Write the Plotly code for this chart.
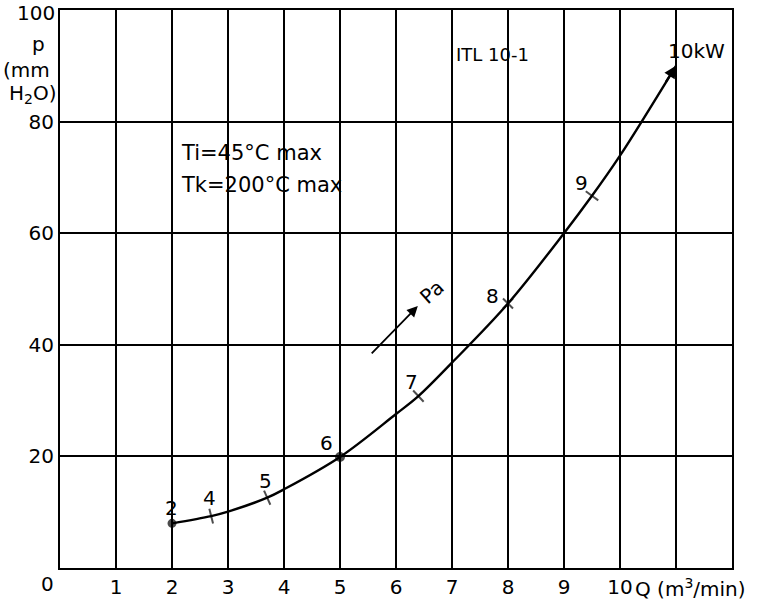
import numpy as np
import plotly.graph_objects as go

# ---- data ----
curve_Q = [2.0, 2.7, 3.0, 3.7, 4.0, 5.0, 6.0, 6.4, 7.0, 8.0, 9.0, 9.5, 10.0, 11.0]
curve_p = [8.0, 9.3, 10.1, 12.6, 14.1, 19.9, 27.6, 30.8, 36.8, 47.4, 60.0, 66.7, 73.9, 90.0]

mark_Q = [2.0, 2.7, 3.7, 5.0, 6.4, 8.0, 9.5]
mark_p = [8.0, 9.3, 12.6, 19.9, 30.8, 47.4, 66.7]
mark_labels = ["2", "4", "5", "6", "7", "8", "9"]

x_tickvals = list(range(0, 13))
x_ticktext = ["", "1", "2", "3", "4", "5", "6", "7", "8", "9", "10", "", ""]
y_tickvals = [0, 20, 40, 60, 80, 100]
y_ticktext = ["", "20", "40", "60", "80", ""]
y_top_label = "100"

FONT = "DejaVu Sans"

# ---- styling for the marks ----
mark_symbols = ["circle", "line-ns-open", "line-ns-open", "circle", "line-ns-open", "x-thin-open", "line-ns-open"]
mark_sizes = [7, 11, 11, 8, 11, 10, 11]
mark_angles = [0, -14, -24, 0, -43, 0, -54]
label_dx = [-1, -2, -2, -14, -7, -16, -11]
label_dy = [15, 18, 17, 14, 14, 8, 13]

fig = go.Figure()

fig.add_trace(go.Scatter(
    x=curve_Q, y=curve_p, mode="lines",
    line=dict(color="black", width=2.4, shape="spline", smoothing=1.0),
    hoverinfo="skip", showlegend=False,
))

fig.add_trace(go.Scatter(
    x=mark_Q, y=mark_p, mode="markers",
    marker=dict(symbol=mark_symbols, size=mark_sizes, angle=mark_angles,
                color="black", line=dict(color="black", width=2)),
    hoverinfo="skip", showlegend=False,
))

annotations = []
for q, pv, lab, dx, dy in zip(mark_Q, mark_p, mark_labels, label_dx, label_dy):
    annotations.append(dict(x=q, y=pv, text=lab, showarrow=False, xshift=dx, yshift=dy,
                            font=dict(family=FONT, size=20, color="black")))

# arrow at the end of the curve (10 kW)
annotations.append(dict(x=curve_Q[-1], y=curve_p[-1], ax=10.8, ay=86.8, axref="x", ayref="y",
                        text="", showarrow=True, arrowhead=2, arrowsize=1.1, arrowwidth=2.2,
                        arrowcolor="black", standoff=0))
annotations.append(dict(x=11.37, y=92.7, text="10kW", showarrow=False,
                        font=dict(family=FONT, size=20, color="black")))
annotations.append(dict(x=7.72, y=92.1, text="ITL 10-1", showarrow=False,
                        font=dict(family=FONT, size=18, color="black")))
annotations.append(dict(x=2.13, y=74.4, text="Ti=45°C max", showarrow=False, xanchor="left",
                        font=dict(family=FONT, size=21, color="black")))
annotations.append(dict(x=2.13, y=68.6, text="Tk=200°C max", showarrow=False, xanchor="left",
                        font=dict(family=FONT, size=21, color="black")))
# Pa arrow
annotations.append(dict(x=6.39, y=46.95, ax=5.54, ay=38.2, axref="x", ayref="y",
                        text="", showarrow=True, arrowhead=2, arrowsize=1.2, arrowwidth=1.8,
                        arrowcolor="black", standoff=0))
annotations.append(dict(x=6.64, y=49.5, text="Pa", showarrow=False, textangle=-42,
                        font=dict(family=FONT, size=20, color="black")))
# axis labels
annotations.append(dict(x=0, xref="paper", xshift=-13, xanchor="center", y=0, yref="paper",
                        text="0", showarrow=False, yanchor="top", yshift=-2,
                        font=dict(family=FONT, size=20, color="black")))
annotations.append(dict(x=0, xref="paper", xshift=-3, xanchor="right", y=1, yref="paper",
                        text=y_top_label, showarrow=False, yanchor="middle", yshift=-3,
                        font=dict(family=FONT, size=20, color="black")))
annotations.append(dict(x=10.23, y=0, yref="paper", text="Q (m<sup>3</sup>/min)", showarrow=False,
                        xanchor="left", yanchor="top", yshift=-5,
                        font=dict(family=FONT, size=20, color="black")))
annotations.append(dict(x=0, xref="paper", y=(568 - 30) / 558, yref="paper", text="p",
                        showarrow=False, xanchor="center", xshift=-22,
                        font=dict(family=FONT, size=20, color="black")))
annotations.append(dict(x=0, xref="paper", y=(568 - 56) / 558, yref="paper", text="(mm",
                        showarrow=False, xanchor="right", xshift=-8,
                        font=dict(family=FONT, size=20, color="black")))
annotations.append(dict(x=0, xref="paper", y=(568 - 79) / 558, yref="paper", text="H<sub>2</sub>O)",
                        showarrow=False, xanchor="right", xshift=-1,
                        font=dict(family=FONT, size=20, color="black")))

fig.update_layout(
    width=766, height=602,
    margin=dict(l=60, r=34, t=10, b=34, autoexpand=False),
    paper_bgcolor="white", plot_bgcolor="white",
    annotations=annotations,
    font=dict(family=FONT, size=20, color="black"),
)
fig.update_xaxes(range=[0, 12], tickmode="array", tickvals=x_tickvals, ticktext=x_ticktext,
                 showgrid=True, gridcolor="black", gridwidth=1.6, zeroline=False, automargin=False,
                 showline=True, linecolor="black", linewidth=2.2, mirror=True, ticks="",
                 ticklabeloverflow="allow",
                 tickfont=dict(family=FONT, size=20, color="black"))
fig.update_yaxes(range=[0, 100], tickmode="array", tickvals=y_tickvals, ticktext=y_ticktext,
                 showgrid=True, gridcolor="black", gridwidth=1.6, zeroline=False, automargin=False,
                 showline=True, linecolor="black", linewidth=2.2, mirror=True, ticks="",
                 ticklabeloverflow="allow",
                 tickfont=dict(family=FONT, size=20, color="black"))

fig.write_html("out.html", config={"displayModeBar": False},
               post_script="document.body.style.margin='0px';document.body.style.overflow='hidden';")
